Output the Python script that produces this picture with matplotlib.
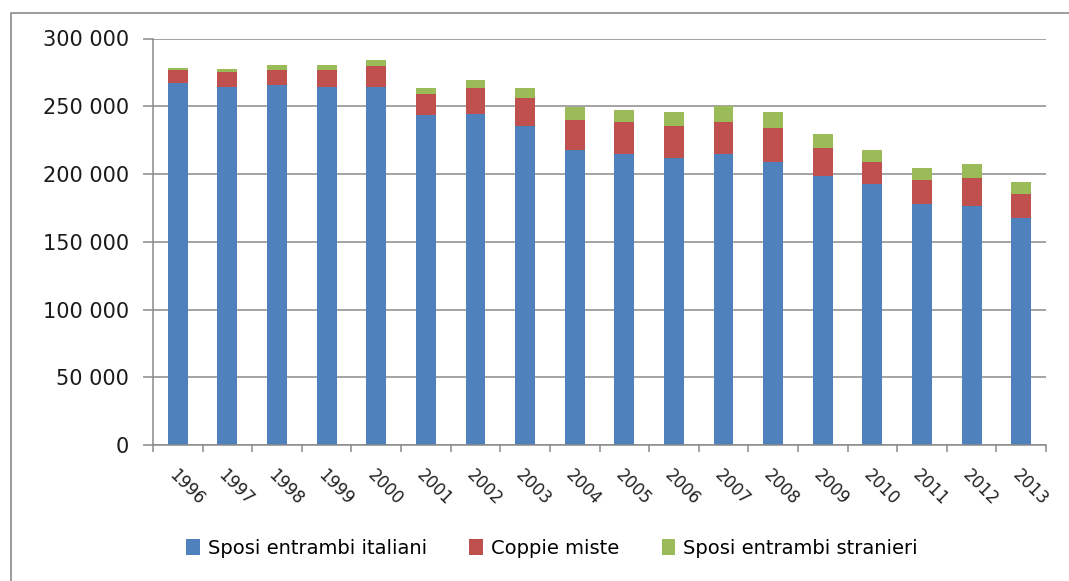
import matplotlib
matplotlib.use("Agg")
import matplotlib.pyplot as plt
import numpy as np
from matplotlib.ticker import FuncFormatter, FixedLocator
from matplotlib.lines import Line2D

# dati
anni = [str(a) for a in range(1996, 2014)]
italiani = [267000, 264000, 265400, 263900, 263900, 243200, 244400, 235600, 217900,
            214700, 211900, 214900, 209000, 198700, 192700, 177700, 176500, 167600]
miste = [10000, 11500, 11500, 13000, 16000, 16000, 19000, 20400, 22100,
         23600, 23700, 23600, 25100, 20600, 16300, 18000, 20700, 17500]
stranieri = [1500, 1700, 3500, 3500, 4400, 4200, 6200, 7400, 9100,
             8900, 10100, 11800, 11600, 10400, 8600, 8600, 10100, 8900]
serie = ['Sposi entrambi italiani', 'Coppie miste', 'Sposi entrambi stranieri']
colori = ['#4F81BD', '#C0504D', '#9BBB59']

plt.rcParams['font.family'] = ['DejaVu Sans']
W, H = 1069, 581
fig = plt.figure(figsize=(W / 100, H / 100), dpi=100)
ax = fig.add_axes([153 / W, 1 - 445 / H, (1046 - 153) / W, (445 - 38.5) / H])

x = np.arange(len(anni))
base = np.zeros(len(anni))
for valori, nome, col in zip([italiani, miste, stranieri], serie, colori):
    ax.bar(x, valori, width=0.4, bottom=base, color=col, label=nome, zorder=2)
    base = base + np.array(valori)

ax.set_xlim(-0.5, len(anni) - 0.5)
ax.set_ylim(0, 300000)
ax.set_yticks(np.arange(0, 300001, 50000))
ax.yaxis.set_major_formatter(FuncFormatter(lambda v, p: f"{int(v):,}".replace(",", " ")))
ax.grid(axis='y', color='#8a8a8a', linewidth=1.1)
ax.set_axisbelow(True)

ax.spines['top'].set_visible(False)
ax.spines['right'].set_visible(False)
for s in ['left', 'bottom']:
    ax.spines[s].set_color('#8a8a8a')
    ax.spines[s].set_linewidth(1.1)

ax.tick_params(axis='y', length=7, width=1.1, color='#8a8a8a', pad=10.5,
               labelsize=15, labelcolor='#1a1a1a')
ax.set_xticks(x)
ax.set_xticklabels(anni, rotation=-45, ha='left', va='top', rotation_mode='anchor')
ax.xaxis.set_minor_locator(FixedLocator(np.arange(-0.5, len(anni), 1.0)))
ax.tick_params(axis='x', which='major', length=0, pad=15, labelsize=12, labelcolor='#222222')
ax.tick_params(axis='x', which='minor', length=5, width=1.1, color='#8a8a8a')

fig.legend(loc='center', bbox_to_anchor=(552 / W, 1 - 548 / H), ncol=3, frameon=False,
           fontsize=14, handlelength=0.7, handleheight=0.9, handletextpad=0.4,
           columnspacing=2.2)

# cornice esterna del grafico
fig.add_artist(Line2D([11 / W, 11 / W, 1.0], [0.0, 1 - 13 / H, 1 - 13 / H],
                      transform=fig.transFigure, color='#8a8a8a', linewidth=1.2))

fig.savefig('out.png', dpi=100)
